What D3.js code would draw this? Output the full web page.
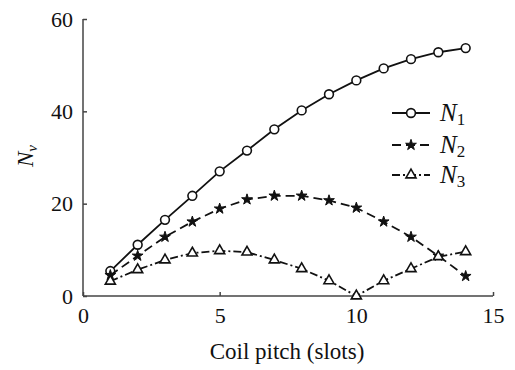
<!DOCTYPE html>
<html><head><meta charset="utf-8">
<script src="https://cdn.jsdelivr.net/npm/d3@7"></script>
<style>body{margin:0;background:#fff}svg{display:block}</style>
</head><body>
<script>
const pitch = [1,2,3,4,5,6,7,8,9,10,11,12,13,14];
const N1 = [5.4,11.1,16.5,21.7,27,31.5,36.1,40.2,43.7,46.7,49.3,51.3,52.8,53.7];
const N2 = [4.5,8.7,12.8,16.1,18.9,20.9,21.7,21.7,20.7,19.1,16.1,12.8,8.7,4.3];
const N3 = [3.2,5.7,7.8,9.3,9.8,9.5,7.8,5.9,3.3,0,3.3,5.9,8.5,9.6];
const xTicks = [0,5,10,15];
const yTicks = [0,20,40,60];
const seriesNames = ["1","2","3"];

const W=515,H=370;
const svg=d3.select("body").append("svg").attr("width",W).attr("height",H);
const x=d3.scaleLinear().domain([0,15]).range([83,493]);
const y=d3.scaleLinear().domain([0,60]).range([296,19]);
const font="Liberation Serif, Times New Roman, serif";
const axCol="#444";

const xa=svg.append("g").attr("transform",`translate(0,${y(0)})`)
  .call(d3.axisBottom(x).tickValues(xTicks).tickSizeInner(-4).tickSizeOuter(0).tickPadding(11));
const ya=svg.append("g").attr("transform",`translate(${x(0)},0)`)
  .call(d3.axisLeft(y).tickValues(yTicks).tickSizeInner(-4).tickSizeOuter(0).tickPadding(10));
[xa,ya].forEach(a=>{
  a.attr("font-family",font);
  a.selectAll("path,line").attr("stroke",axCol).attr("stroke-width",1.5);
  a.selectAll("text").attr("font-family",font).attr("font-size",22).attr("fill","#111");
});
xa.select(".domain").attr("d",`M${x(0)},0H${x(15)}`);
ya.select(".domain").attr("d",`M0,${y(0)}V${y(60)}`);

const series=[
  {name:seriesNames[0],vals:N1,dash:null,marker:"circle"},
  {name:seriesNames[1],vals:N2,dash:"9,5",marker:"star"},
  {name:seriesNames[2],vals:N3,dash:"8,3,2,3",marker:"triangle"}
];
const line=d3.line().x(d=>x(d[0])).y(d=>y(d[1]));
function drawMarker(g,type,cx,cy){
  if(type==="circle"){
    g.append("circle").attr("cx",cx).attr("cy",cy).attr("r",4.4)
      .attr("fill","#fff").attr("stroke","#111").attr("stroke-width",1.6);
  } else if(type==="star"){
    g.append("path").attr("d",d3.symbol(d3.symbolStar,36)())
      .attr("transform",`translate(${cx},${cy})`).attr("fill","#111").attr("stroke","#111").attr("stroke-width",1);
  } else {
    g.append("path").attr("d",d3.symbol(d3.symbolTriangle,44)())
      .attr("transform",`translate(${cx},${cy})`).attr("fill","#fff").attr("stroke","#111").attr("stroke-width",1.6);
  }
}
series.forEach(s=>{
  const pts=pitch.map((p,i)=>[p,s.vals[i]]);
  svg.append("path").attr("d",line(pts)).attr("fill","none").attr("stroke","#111")
    .attr("stroke-width",1.8).attr("stroke-dasharray",s.dash);
  const g=svg.append("g");
  pts.forEach(p=>drawMarker(g,s.marker,x(p[0]),y(p[1])));
});

// legend
const legY=[113,145,175];
series.forEach((s,i)=>{
  const ly=legY[i];
  svg.append("line").attr("x1",392).attr("x2",430).attr("y1",ly).attr("y2",ly)
    .attr("stroke","#111").attr("stroke-width",1.8).attr("stroke-dasharray",s.dash);
  drawMarker(svg,s.marker,411,ly);
  const t=svg.append("text").attr("x",440).attr("y",ly+8).attr("font-family",font)
    .attr("font-size",25).attr("fill","#111");
  t.append("tspan").attr("font-style","italic").text("N");
  t.append("tspan").attr("font-size",17).attr("dy",4).text(s.name);
});

// axis labels
svg.append("text").attr("x",287).attr("y",359).attr("text-anchor","middle")
  .attr("font-family",font).attr("font-size",23).attr("fill","#111").text("Coil pitch (slots)");
const yl=svg.append("text").attr("transform","translate(33,156) rotate(-90)")
  .attr("text-anchor","middle").attr("font-family",font).attr("font-size",23).attr("fill","#111");
yl.append("tspan").attr("font-style","italic").text("N");
yl.append("tspan").attr("font-style","italic").attr("font-size",15).attr("dy",4).text("ν");
</script>
</body></html>
